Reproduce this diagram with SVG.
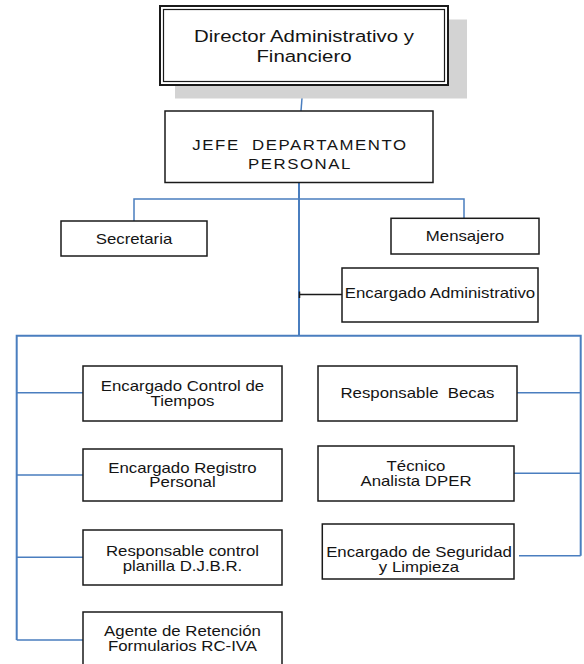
<svg xmlns="http://www.w3.org/2000/svg" width="584" height="664" viewBox="0 0 584 664">
  <style>
    .box { fill: #ffffff; stroke: #1a1a1a; stroke-width: 1.5; }
    .link { fill: none; stroke: #4a7ebf; stroke-width: 1.5; }
    .bus { fill: none; stroke: #4a7ebf; stroke-width: 2; }
    .t { font-family: "Liberation Sans", Arial, sans-serif; font-size: 14px; fill: #141414; text-anchor: middle; }
  </style>

  <rect width="584" height="664" fill="#ffffff"/>

  <!-- connectors -->
  <g id="connectors">
    <path class="link" d="M303 85 L301 111"/>
    <path class="bus" d="M299 183 V336"/>
    <path class="link" d="M134 221 V199 H464 V218"/>
    <path fill="none" stroke="#1a1a1a" stroke-width="1.5" d="M342 294.5 H299.5 M299.5 291.5 V298"/>
    <path class="bus" d="M16.7 640 V335.7 H580.7 V555.7"/>
    <path class="link" d="M16.7 392.7 H83 M16.7 475 H83 M16.7 557.3 H83 M16.7 640 H83"/>
    <path class="link" d="M517 392.7 H580.7 M514 473.3 H580.7 M519 555.7 H580.7"/>
  </g>

  <!-- top position, with drop shadow and double frame -->
  <g id="director">
    <rect x="175" y="19.5" width="292" height="79" fill="#d3d3d3"/>
    <rect x="160" y="6" width="288" height="79" fill="#ffffff" stroke="#1a1a1a" stroke-width="2"/>
    <rect x="163.5" y="9.5" width="281" height="72" fill="none" stroke="#1a1a1a" stroke-width="1.2"/>
    <text class="t" style="font-size:17px" transform="translate(304 41.7) scale(1.2 1)"><tspan x="0">Director Administrativo y</tspan><tspan x="0" dy="20">Financiero</tspan></text>
  </g>

  <g id="jefe">
    <rect class="box" x="165" y="111" width="268" height="71.5"/>
    <text class="t" style="letter-spacing:1.3px; white-space:pre" transform="translate(300 150) scale(1.2 1)"><tspan x="0">JEFE  DEPARTAMENTO</tspan><tspan x="0" dy="19">PERSONAL</tspan></text>
  </g>

  <g id="secretaria">
    <rect class="box" x="61" y="221" width="146" height="35"/>
    <text class="t" transform="translate(134 243.5) scale(1.2 1)">Secretaria</text>
  </g>

  <g id="mensajero">
    <rect class="box" x="391" y="218.3" width="148" height="35.7"/>
    <text class="t" transform="translate(465 241) scale(1.2 1)">Mensajero</text>
  </g>

  <g id="encargado-administrativo">
    <rect class="box" x="342" y="268" width="196" height="54"/>
    <text class="t" transform="translate(440 298.3) scale(1.2 1)">Encargado Administrativo</text>
  </g>

  <g id="control-tiempos">
    <rect class="box" x="83" y="366" width="199" height="55"/>
    <text class="t" transform="translate(182.5 391) scale(1.2 1)"><tspan x="0">Encargado Control de</tspan><tspan x="0" dy="15">Tiempos</tspan></text>
  </g>

  <g id="registro-personal">
    <rect class="box" x="83" y="449" width="199" height="52"/>
    <text class="t" transform="translate(182.5 472.5) scale(1.2 1)"><tspan x="0">Encargado Registro</tspan><tspan x="0" dy="15">Personal</tspan></text>
  </g>

  <g id="control-planilla">
    <rect class="box" x="83" y="530" width="199" height="55"/>
    <text class="t" transform="translate(182.5 556) scale(1.2 1)"><tspan x="0">Responsable control</tspan><tspan x="0" dy="15">planilla D.J.B.R.</tspan></text>
  </g>

  <g id="agente-retencion">
    <rect class="box" x="83" y="612" width="199" height="53"/>
    <text class="t" transform="translate(182.5 636) scale(1.2 1)"><tspan x="0">Agente de Retención</tspan><tspan x="0" dy="15">Formularios RC-IVA</tspan></text>
  </g>

  <g id="becas">
    <rect class="box" x="318" y="366" width="199" height="55"/>
    <text class="t" style="white-space:pre" transform="translate(417.5 398.3) scale(1.2 1)">Responsable  Becas</text>
  </g>

  <g id="tecnico-analista">
    <rect class="box" x="318" y="446" width="196" height="55"/>
    <text class="t" transform="translate(416 471) scale(1.2 1)"><tspan x="0">Técnico</tspan><tspan x="0" dy="15">Analista DPER</tspan></text>
  </g>

  <g id="seguridad-limpieza">
    <rect class="box" x="322.3" y="524" width="191.7" height="55"/>
    <text class="t" transform="translate(419 557) scale(1.2 1)"><tspan x="0">Encargado de Seguridad</tspan><tspan x="0" dy="15">y Limpieza</tspan></text>
  </g>
</svg>
